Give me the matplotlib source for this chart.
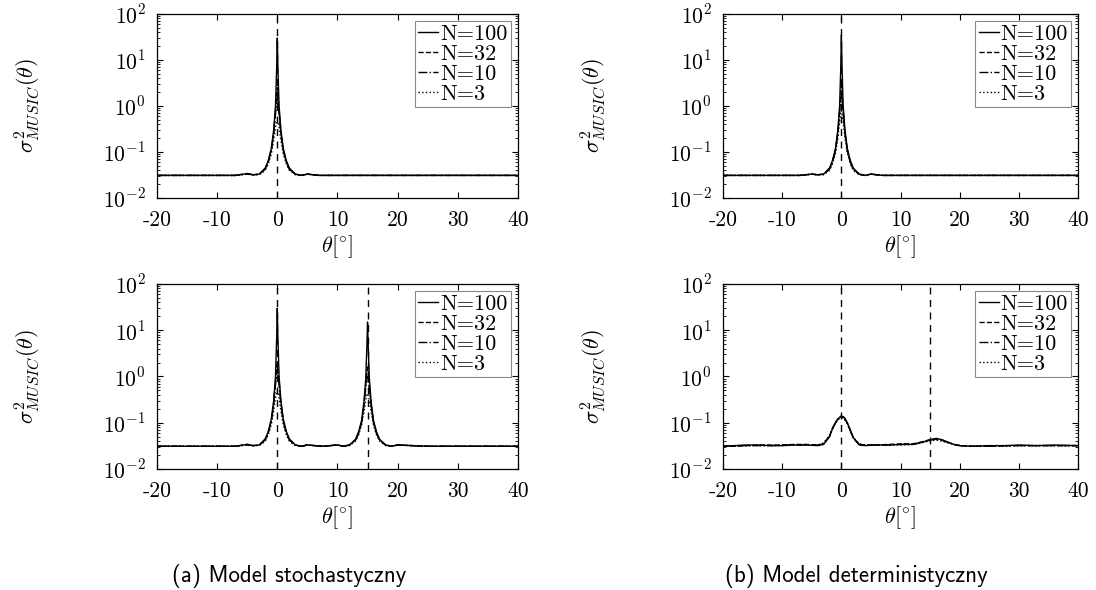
import numpy as np
import matplotlib
matplotlib.use("Agg")
import matplotlib.pyplot as plt
from matplotlib.ticker import LogLocator, NullFormatter

plt.rcParams['mathtext.fontset'] = 'cm'

labels = ['N=100', 'N=32', 'N=10', 'N=3']
styles = ['-', '--', '-.', ':']
xticks = [-20, -10, 0, 10, 20, 30, 40]
xticklabels = ['-20', '-10', '0', '10', '20', '30', '40']
yticks = [1e-2, 1e-1, 1e0, 1e1, 1e2]
yticklabels = [r'$10^{-2}$', r'$10^{-1}$', r'$10^{0}$', r'$10^{1}$', r'$10^{2}$']

# one source at 0 deg
th_single = [-20, -15, -10, -7, -5, -4, -3, -2, -1.5, -1, -0.6, -0.3, -0.1, 0,
             0.1, 0.3, 0.6, 1, 1.5, 2, 3, 4, 5, 7, 10, 15, 20, 30, 40]
sto1_100 = [0.031, 0.031, 0.031, 0.031, 0.034, 0.032, 0.033, 0.045, 0.065, 0.12, 0.3, 1.0, 7, 30,
            7, 1.0, 0.3, 0.12, 0.065, 0.045, 0.033, 0.031, 0.033, 0.031, 0.031, 0.031, 0.031, 0.031, 0.031]
sto1_32 = [0.031, 0.031, 0.031, 0.031, 0.034, 0.032, 0.033, 0.043, 0.062, 0.11, 0.27, 0.8, 1.8, 2.5,
           1.8, 0.8, 0.27, 0.11, 0.062, 0.043, 0.033, 0.031, 0.033, 0.031, 0.031, 0.031, 0.031, 0.031, 0.031]
sto1_10 = [0.031, 0.031, 0.031, 0.031, 0.033, 0.032, 0.033, 0.042, 0.06, 0.105, 0.25, 0.65, 1.2, 1.5,
           1.2, 0.65, 0.25, 0.105, 0.06, 0.042, 0.033, 0.031, 0.033, 0.031, 0.031, 0.031, 0.031, 0.031, 0.031]
sto1_3 = [0.031, 0.031, 0.031, 0.031, 0.033, 0.032, 0.032, 0.04, 0.055, 0.09, 0.18, 0.34, 0.46, 0.5,
          0.46, 0.34, 0.18, 0.09, 0.055, 0.04, 0.032, 0.031, 0.033, 0.031, 0.031, 0.031, 0.031, 0.031, 0.031]

det1_100 = [0.031, 0.031, 0.031, 0.031, 0.033, 0.032, 0.033, 0.045, 0.066, 0.12, 0.3, 1.0, 7.5, 35,
            7.5, 1.0, 0.3, 0.12, 0.066, 0.045, 0.033, 0.031, 0.033, 0.031, 0.031, 0.031, 0.031, 0.031, 0.031]
det1_32 = [0.031, 0.031, 0.031, 0.031, 0.033, 0.032, 0.033, 0.043, 0.062, 0.11, 0.27, 0.8, 1.9, 2.8,
           1.9, 0.8, 0.27, 0.11, 0.062, 0.043, 0.033, 0.031, 0.033, 0.031, 0.031, 0.031, 0.031, 0.031, 0.031]
det1_10 = [0.031, 0.031, 0.031, 0.031, 0.033, 0.032, 0.033, 0.042, 0.06, 0.105, 0.25, 0.7, 1.4, 1.8,
           1.4, 0.7, 0.25, 0.105, 0.06, 0.042, 0.033, 0.031, 0.033, 0.031, 0.031, 0.031, 0.031, 0.031, 0.031]
det1_3 = [0.031, 0.031, 0.031, 0.031, 0.033, 0.032, 0.032, 0.04, 0.056, 0.095, 0.2, 0.45, 0.7, 0.8,
          0.7, 0.45, 0.2, 0.095, 0.056, 0.04, 0.032, 0.031, 0.033, 0.031, 0.031, 0.031, 0.031, 0.031, 0.031]

# two sources at 0 and 15 deg, stochastic model
th_double = [-20, -15, -10, -7, -5, -4, -3, -2, -1.5, -1, -0.6, -0.3, -0.1, 0, 0.1, 0.3, 0.6, 1, 1.5, 2, 3, 4, 5,
             7.5, 10, 11, 12, 13, 13.5, 14, 14.4, 14.7, 14.9, 15, 15.1, 15.3, 15.6, 16, 16.5, 17, 18, 19, 20,
             25, 30, 35, 40]
sto2_100 = [0.031, 0.031, 0.031, 0.031, 0.034, 0.032, 0.033, 0.045, 0.065, 0.12, 0.3, 1.0, 7, 30, 7, 1.0, 0.3, 0.12, 0.065, 0.045, 0.033, 0.031, 0.033,
            0.031, 0.033, 0.031, 0.033, 0.044, 0.063, 0.11, 0.28, 0.9, 5, 15, 5, 0.9, 0.28, 0.11, 0.063, 0.044, 0.033, 0.031, 0.033,
            0.031, 0.031, 0.031, 0.031]
sto2_32 = [0.031, 0.031, 0.031, 0.031, 0.034, 0.032, 0.033, 0.043, 0.062, 0.11, 0.27, 0.8, 1.6, 2.2, 1.6, 0.8, 0.27, 0.11, 0.062, 0.043, 0.033, 0.031, 0.033,
           0.031, 0.033, 0.031, 0.033, 0.043, 0.06, 0.1, 0.25, 0.65, 1.3, 1.6, 1.3, 0.65, 0.25, 0.1, 0.06, 0.043, 0.033, 0.031, 0.033,
           0.031, 0.031, 0.031, 0.031]
sto2_10 = [0.031, 0.031, 0.031, 0.031, 0.033, 0.032, 0.033, 0.042, 0.06, 0.105, 0.25, 0.65, 1.1, 1.4, 1.1, 0.65, 0.25, 0.105, 0.06, 0.042, 0.033, 0.031, 0.033,
           0.031, 0.033, 0.031, 0.033, 0.042, 0.058, 0.1, 0.23, 0.55, 0.85, 1.0, 0.85, 0.55, 0.23, 0.1, 0.058, 0.042, 0.033, 0.031, 0.033,
           0.031, 0.031, 0.031, 0.031]
sto2_3 = [0.031, 0.031, 0.031, 0.031, 0.033, 0.032, 0.032, 0.04, 0.055, 0.09, 0.18, 0.34, 0.46, 0.5, 0.46, 0.34, 0.18, 0.09, 0.055, 0.04, 0.032, 0.031, 0.033,
          0.031, 0.033, 0.031, 0.032, 0.04, 0.054, 0.088, 0.17, 0.3, 0.4, 0.43, 0.4, 0.3, 0.17, 0.088, 0.054, 0.04, 0.032, 0.031, 0.033,
          0.031, 0.031, 0.031, 0.031]

# two sources, deterministic model
th_broad = [-20, -18, -16, -14, -12, -10, -8, -6, -4, -3, -2, -1.5, -1, -0.5, 0, 0.5, 1, 1.5, 2, 3, 4, 6, 8,
            10, 12, 13, 14, 15, 16, 17, 18, 19, 20, 22, 25, 28, 30, 33, 36, 40]
det2_100 = [0.031, 0.032, 0.033, 0.033, 0.032, 0.032, 0.033, 0.033, 0.032, 0.034, 0.05, 0.075, 0.1, 0.125, 0.14, 0.13, 0.1, 0.07, 0.048, 0.033, 0.032, 0.033, 0.033,
            0.034, 0.034, 0.036, 0.039, 0.043, 0.046, 0.043, 0.038, 0.034, 0.032, 0.031, 0.032, 0.032, 0.033, 0.032, 0.033, 0.032]
det2_32 = [0.031, 0.031, 0.032, 0.033, 0.033, 0.033, 0.034, 0.034, 0.033, 0.035, 0.052, 0.077, 0.102, 0.126, 0.14, 0.128, 0.098, 0.068, 0.047, 0.034, 0.033, 0.033, 0.034,
           0.035, 0.035, 0.037, 0.04, 0.043, 0.044, 0.042, 0.038, 0.034, 0.032, 0.031, 0.031, 0.032, 0.032, 0.032, 0.032, 0.032]
det2_10 = [0.031, 0.032, 0.032, 0.032, 0.032, 0.033, 0.033, 0.033, 0.033, 0.035, 0.051, 0.075, 0.1, 0.124, 0.138, 0.127, 0.097, 0.068, 0.047, 0.034, 0.033, 0.033, 0.033,
           0.034, 0.034, 0.036, 0.039, 0.042, 0.044, 0.042, 0.037, 0.034, 0.032, 0.031, 0.031, 0.032, 0.032, 0.032, 0.032, 0.032]
det2_3 = [0.031, 0.031, 0.032, 0.032, 0.032, 0.032, 0.033, 0.033, 0.033, 0.037, 0.053, 0.074, 0.097, 0.118, 0.13, 0.12, 0.094, 0.067, 0.048, 0.035, 0.033, 0.033, 0.033,
          0.033, 0.034, 0.036, 0.038, 0.041, 0.042, 0.04, 0.037, 0.034, 0.032, 0.031, 0.031, 0.031, 0.032, 0.032, 0.032, 0.032]

panels = [
    (th_single, [sto1_100, sto1_32, sto1_10, sto1_3], [0]),
    (th_single, [det1_100, det1_32, det1_10, det1_3], [0]),
    (th_double, [sto2_100, sto2_32, sto2_10, sto2_3], [0, 15]),
    (th_broad, [det2_100, det2_32, det2_10, det2_3], [0, 15]),
]
rects = [
    [0.1432, 0.6644, 0.3294, 0.3119],
    [0.6597, 0.6644, 0.3240, 0.3119],
    [0.1432, 0.2051, 0.3294, 0.3136],
    [0.6597, 0.2051, 0.3240, 0.3136],
]

fig = plt.figure(figsize=(10.96, 5.9), dpi=100)

for (th, series, doa), rect in zip(panels, rects):
    ax = fig.add_axes(rect)
    for ys, ls, lab in zip(series, styles, labels):
        ax.semilogy(th, ys, color='black', linestyle=ls, linewidth=1.0, label=lab)
    for d in doa:
        ax.axvline(d, color='black', linestyle=(0, (5, 4)), linewidth=1.0)
    ax.set_xlim(-20, 40)
    ax.set_ylim(1e-2, 1e2)
    ax.set_xticks(xticks)
    ax.set_xticklabels(xticklabels, fontfamily='cmr10')
    ax.set_yticks(yticks)
    ax.set_yticklabels(yticklabels)
    ax.yaxis.set_minor_locator(LogLocator(base=10, subs=np.arange(2, 10), numticks=20))
    ax.yaxis.set_minor_formatter(NullFormatter())
    ax.tick_params(which='both', direction='in', top=True, right=True, labelsize=15.5)
    ax.tick_params(axis='x', pad=9)
    ax.tick_params(axis='y', pad=8)
    ax.tick_params(which='major', length=4)
    ax.tick_params(which='minor', length=2)
    for s in ax.spines.values():
        s.set_linewidth(0.9)
    ax.set_xlabel(r'$\theta[{}^{\circ}]$', fontsize=16, labelpad=2)
    ax.set_ylabel(r'$\sigma^2_{MUSIC}(\theta)$', fontsize=16)
    ax.yaxis.set_label_coords(-115 / (rect[2] * 1096), 0.5)
    leg = ax.legend(loc='upper right', prop={'family': 'cmr10', 'size': 16},
                    handlelength=0.9, handletextpad=0.1, borderpad=0.15,
                    labelspacing=0.02, fancybox=False, framealpha=1,
                    borderaxespad=0.3)
    leg.get_frame().set_edgecolor('#888888')
    leg.get_frame().set_linewidth(0.8)

fig.text(172 / 1096, 1 - 582 / 590, '(a) Model stochastyczny', fontsize=16.5,
         ha='left', va='baseline', family='cmss10')
fig.text(725 / 1096, 1 - 582 / 590, '(b) Model deterministyczny', fontsize=16.5,
         ha='left', va='baseline', family='cmss10')

fig.savefig('out.png', dpi=100)
